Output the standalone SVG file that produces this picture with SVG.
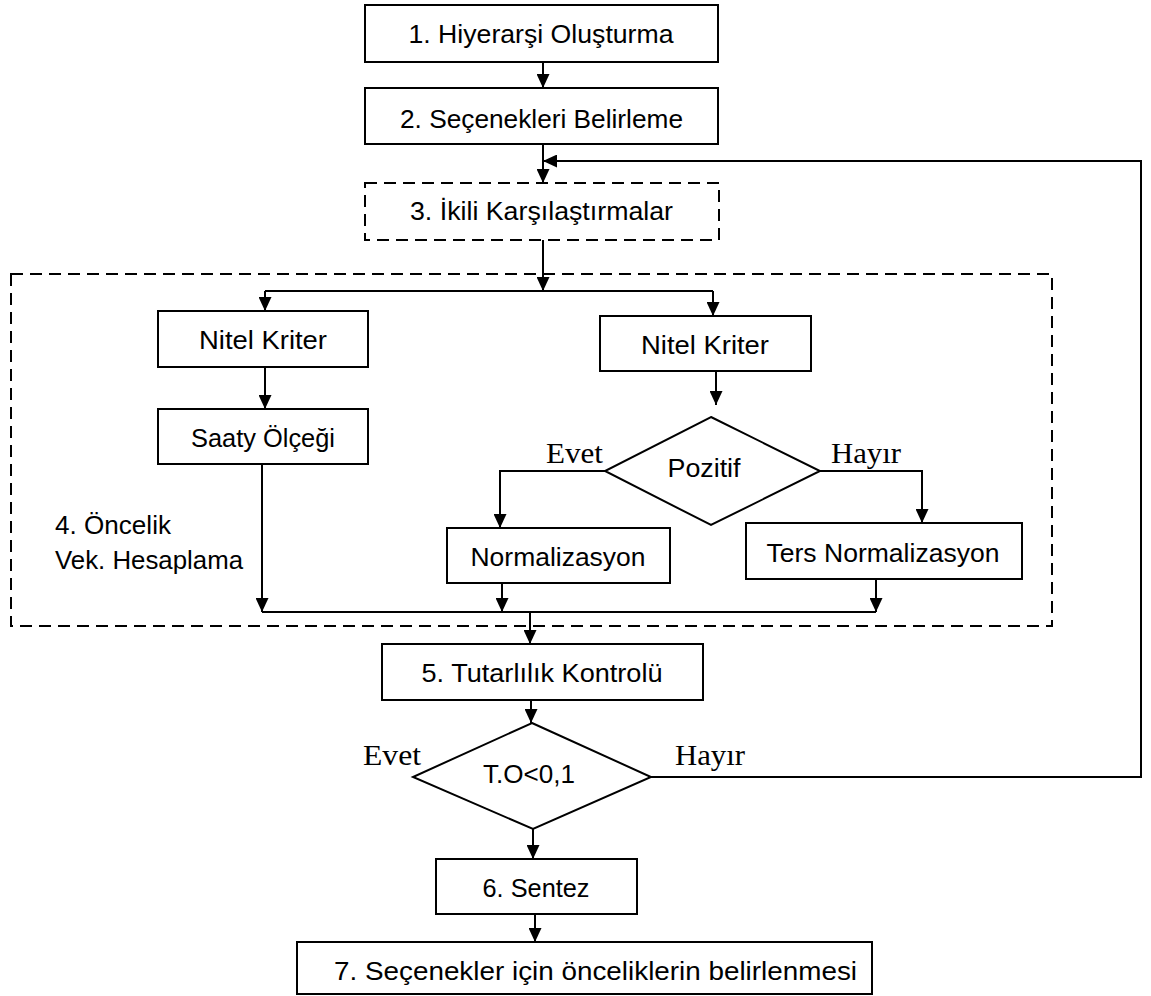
<svg xmlns="http://www.w3.org/2000/svg" width="1151" height="996" viewBox="0 0 1151 996">
<style>
.box{fill:#fff;stroke:#000;stroke-width:2}
.dash{fill:none;stroke:#000;stroke-width:2;stroke-dasharray:12 7}
.ln{fill:none;stroke:#000;stroke-width:2}
.arr{marker-end:url(#ah)}
.t{font-family:"Liberation Sans",Arial,sans-serif;font-size:26px;fill:#000;text-anchor:middle}
.tl{font-family:"Liberation Sans",Arial,sans-serif;font-size:26px;fill:#000}
.s{font-family:"Liberation Serif","Times New Roman",serif;font-size:30px;fill:#000}
</style>
<defs>
<marker id="ah" markerUnits="userSpaceOnUse" markerWidth="14" markerHeight="13" refX="14" refY="6.5" orient="auto">
<path d="M0,0 L14,6.5 L0,13 z" fill="#000"/>
</marker>
</defs>
<rect width="1151" height="996" fill="#fff"/>
<g id="group4">
<rect class="dash" x="11" y="274" width="1041" height="352"/>
<text class="tl" x="55" y="534" textLength="116" lengthAdjust="spacingAndGlyphs">4. Öncelik</text>
<text class="tl" x="55" y="569" textLength="188" lengthAdjust="spacingAndGlyphs">Vek. Hesaplama</text>
</g>
<g id="connectors">
<path class="ln arr" d="M543,62 V88"/>
<path class="ln arr" d="M543,144 V183"/>
<path class="ln arr" d="M651,777 H1141 V161 H543"/>
<path class="ln arr" d="M543,240 V291"/>
<path class="ln" d="M265,291 H713"/>
<path class="ln arr" d="M265,291 V311"/>
<path class="ln arr" d="M713,291 V316"/>
<path class="ln arr" d="M265,367 V409"/>
<path class="ln arr" d="M716,371 V405"/>
<path class="ln arr" d="M605,471 H500 V528"/>
<path class="ln arr" d="M820,471 H922 V523"/>
<path class="ln arr" d="M262,464 V612"/>
<path class="ln arr" d="M502,583 V612"/>
<path class="ln arr" d="M876,579 V612"/>
<path class="ln" d="M262,612 H876"/>
<path class="ln arr" d="M530,612 V644"/>
<path class="ln arr" d="M531,700 V723"/>
<path class="ln arr" d="M533,829 V859"/>
<path class="ln arr" d="M535,914 V942"/>
<text class="s" x="546" y="463" textLength="57" lengthAdjust="spacingAndGlyphs">Evet</text>
<text class="s" x="831" y="463" textLength="70" lengthAdjust="spacingAndGlyphs">Hayır</text>
<text class="s" x="363" y="765" textLength="58" lengthAdjust="spacingAndGlyphs">Evet</text>
<text class="s" x="675" y="765" textLength="70" lengthAdjust="spacingAndGlyphs">Hayır</text>
</g>
<g id="n1">
<rect class="box" x="365" y="5" width="353" height="57"/>
<text class="t" x="541" y="43" textLength="265" lengthAdjust="spacingAndGlyphs">1. Hiyerarşi Oluşturma</text>
</g>
<g id="n2">
<rect class="box" x="365" y="88" width="353" height="56"/>
<text class="t" x="541.5" y="128" textLength="283" lengthAdjust="spacingAndGlyphs">2. Seçenekleri Belirleme</text>
</g>
<g id="n3">
<rect class="dash" x="365" y="183" width="354" height="57"/>
<text class="t" x="541.5" y="220" textLength="263" lengthAdjust="spacingAndGlyphs">3. İkili Karşılaştırmalar</text>
</g>
<g id="n_nitel_left">
<rect class="box" x="158" y="311" width="210" height="56"/>
<text class="t" x="263" y="349" textLength="128" lengthAdjust="spacingAndGlyphs">Nitel Kriter</text>
</g>
<g id="n_saaty">
<rect class="box" x="158" y="409" width="210" height="55"/>
<text class="t" x="263" y="447" textLength="144" lengthAdjust="spacingAndGlyphs">Saaty Ölçeği</text>
</g>
<g id="n_nitel_right">
<rect class="box" x="600" y="316" width="211" height="55"/>
<text class="t" x="705" y="354" textLength="128" lengthAdjust="spacingAndGlyphs">Nitel Kriter</text>
</g>
<g id="n_pozitif">
<polygon class="box" points="711,417 820,471 711,525 605,471"/>
<text class="t" x="704" y="477" textLength="73" lengthAdjust="spacingAndGlyphs">Pozitif</text>
</g>
<g id="n_norm">
<rect class="box" x="447" y="528" width="223" height="55"/>
<text class="t" x="558" y="566" textLength="175" lengthAdjust="spacingAndGlyphs">Normalizasyon</text>
</g>
<g id="n_ters">
<rect class="box" x="746" y="523" width="276" height="56"/>
<text class="t" x="883" y="562" textLength="233" lengthAdjust="spacingAndGlyphs">Ters Normalizasyon</text>
</g>
<g id="n5">
<rect class="box" x="382" y="644" width="321" height="56"/>
<text class="t" x="542" y="682" textLength="241" lengthAdjust="spacingAndGlyphs">5. Tutarlılık Kontrolü</text>
</g>
<g id="n_to">
<polygon class="box" points="532,723 651,777 533,829 413,777"/>
<text class="t" x="529" y="783" textLength="92" lengthAdjust="spacingAndGlyphs">T.O&lt;0,1</text>
</g>
<g id="n6">
<rect class="box" x="436" y="859" width="201" height="55"/>
<text class="t" x="536" y="897" textLength="107" lengthAdjust="spacingAndGlyphs">6. Sentez</text>
</g>
<g id="n7">
<rect class="box" x="297" y="942" width="575" height="52"/>
<text class="t" x="595.5" y="980" textLength="523" lengthAdjust="spacingAndGlyphs">7. Seçenekler için önceliklerin belirlenmesi</text>
</g>
</svg>
